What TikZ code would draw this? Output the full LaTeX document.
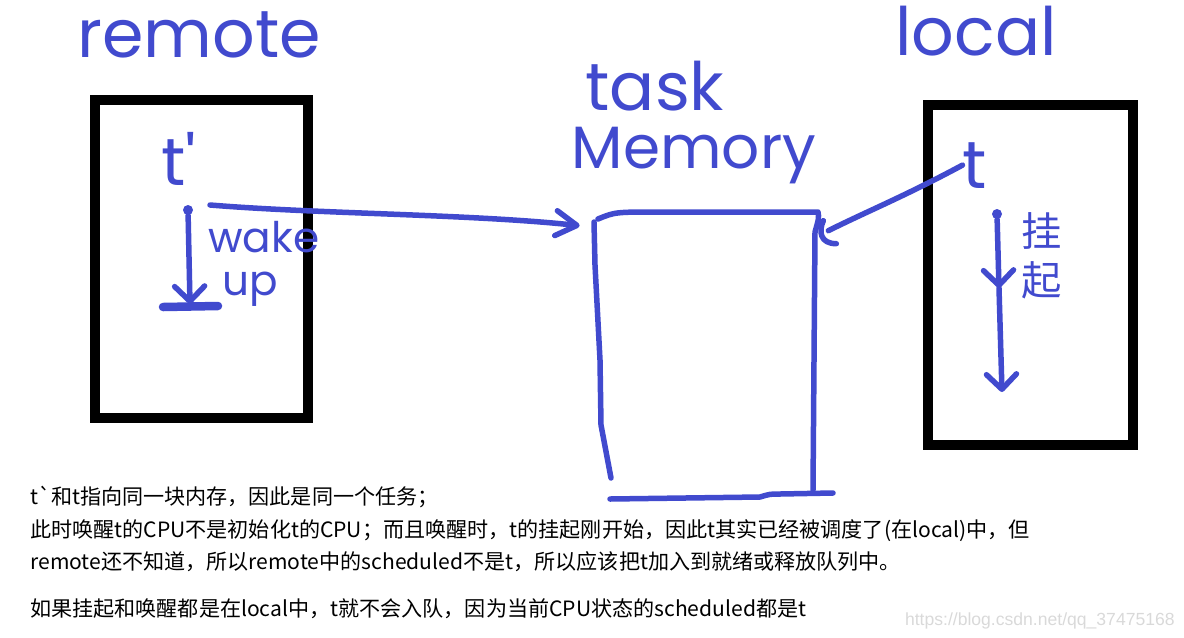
\documentclass[tikz,border=0pt]{standalone}
\usepackage{fontspec}
\setmainfont{Noto Sans CJK SC}
\newfontfamily\handfont{Poppins}
\newfontfamily\urlfont{Liberation Sans}
\usetikzlibrary{positioning,arrows.meta}
\definecolor{penblue}{RGB}{65,74,206}
\tikzset{
	ink/.style = {draw=penblue, line width=0.11cm, line cap=round, line join=round},% marker strokes
	frame box/.style = {rectangle, draw=black, line width=0.2cm, inner sep=0pt},
	hand/.style = {text=penblue, inner sep=0pt, font=\handfont\fontsize{38}{40}\selectfont},
	hand small/.style = {hand, font=\handfont\fontsize{24}{27}\selectfont},
	hand cjk/.style = {text=penblue, inner sep=0pt, align=center, font=\fontsize{23}{28}\selectfont},
	pen dot/.style = {circle, fill=penblue, inner sep=0pt, minimum size=0.2cm},
	side tip/.style = {-{Straight Barb[length=0.42cm,width=0.5cm,round]}},
	down tip/.style = {-{Straight Barb[length=0.3cm,width=0.6cm,round]}},
	note text/.style = {align=left, inner sep=0pt, font=\fontsize{12}{18.5}\selectfont},
	water mark/.style = {text=black!15, inner sep=0pt, font=\urlfont\fontsize{10}{12}\selectfont}
}

\begin{document}
\begin{tikzpicture}[x=0.02cm, y=-0.02cm]
	\useasboundingbox (0,0) rectangle (1184,637);
	% the two cpus
	\node[frame box, minimum width=4.26cm, minimum height=6.36cm] (remote) at (201.5,259) {};
	\node[frame box, minimum width=4.11cm, minimum height=6.8cm] (local) at (1030.75,275) {};
	\node[inner sep=0pt, minimum width=4.36cm, minimum height=5.68cm] (memory) at (707,355) {};
	% titles
	\node[hand, anchor=base] (remotetitle) at (199,57) {remote};
	\node[hand, anchor=base] (localtitle) at (976,55) {local};
	\node[hand, anchor=base] (tasktitle) at (655,110) {task};
	\node[hand, anchor=base, font=\handfont\fontsize{34}{36}\selectfont] (memtitle) at (694,168) {Memory};
	% task memory, drawn by hand
	\draw[ink] (598,219) .. controls (615,212) .. (660,212) -- (818,212) .. controls (819,218) .. (815,232) -- (813,490);
	\draw[ink] (594,222) -- (595,265) -- (600,360) -- (601,425) -- (611,478);
	\draw[ink] (610,499) -- (760,497) .. controls (770,494) .. (780,494) -- (833,493);
	% remote side
	\node[hand, anchor=base] (tprime) at (179,185) {t'};
	\node[pen dot] (wakedot) at (188,210) {};
	\coordinate (wakeend) at (190,304);
	\coordinate (sendstart) at (210,205);
	\draw[ink, down tip] (wakedot) -- (wakeend);
	\draw[ink, line width=0.17cm] (wakeend) ++(-27,3) -- ++(55,-1);
	\node[hand small, anchor=base west] (wakeword) at (208,252) {wake};
	\node[hand small, anchor=base west] (upword) at (222,295) {up};
	\draw[ink, side tip] (sendstart) .. controls (320,214) and (470,214) .. ([xshift=-0.36cm,yshift=-0.26cm]memory.north west);
	% local side
	\node[hand, anchor=base] (tlocal) at (975,188) {t};
	\draw[ink] (tlocal.west) .. controls (905,196) and (870,210) .. ([xshift=0.24cm,yshift=-0.36cm]memory.north east);
	\draw[ink] ([xshift=0.14cm,yshift=-0.16cm]memory.north east) .. controls +(-5,11) and +(-16,0) .. ++(13,23);
	\node[pen dot] (hangdot) at (997,214) {};
	\coordinate (hangmid) at (999,288);
	\coordinate (hangend) at (1002,392);
	\draw[ink, down tip] (hangdot) -- (hangmid);
	\draw[ink, down tip] (hangmid) -- (hangend);
	\node[hand cjk] (hanglabel) at (1042,256) {挂\\起};
	% explanation below
	\node[note text, anchor=north west] (note) at (30,486) {t\textasciigrave 和t指向同一块内存，因此是同一个任务；\\
		此时唤醒t的CPU不是初始化t的CPU；而且唤醒时，t的挂起刚开始，因此t其实已经被调度了(在local)中，但\\
		remote还不知道，所以remote中的scheduled不是t，所以应该把t加入到就绪或释放队列中。};
	\node[note text, below right=0.52cm and 0cm of note.south west] (note2) {如果挂起和唤醒都是在local中，t就不会入队，因为当前CPU状态的scheduled都是t};
	\node[water mark, anchor=base east] (watermark) at (1175,625) {https://blog.csdn.net/qq\_37475168};
\end{tikzpicture}
\end{document}
